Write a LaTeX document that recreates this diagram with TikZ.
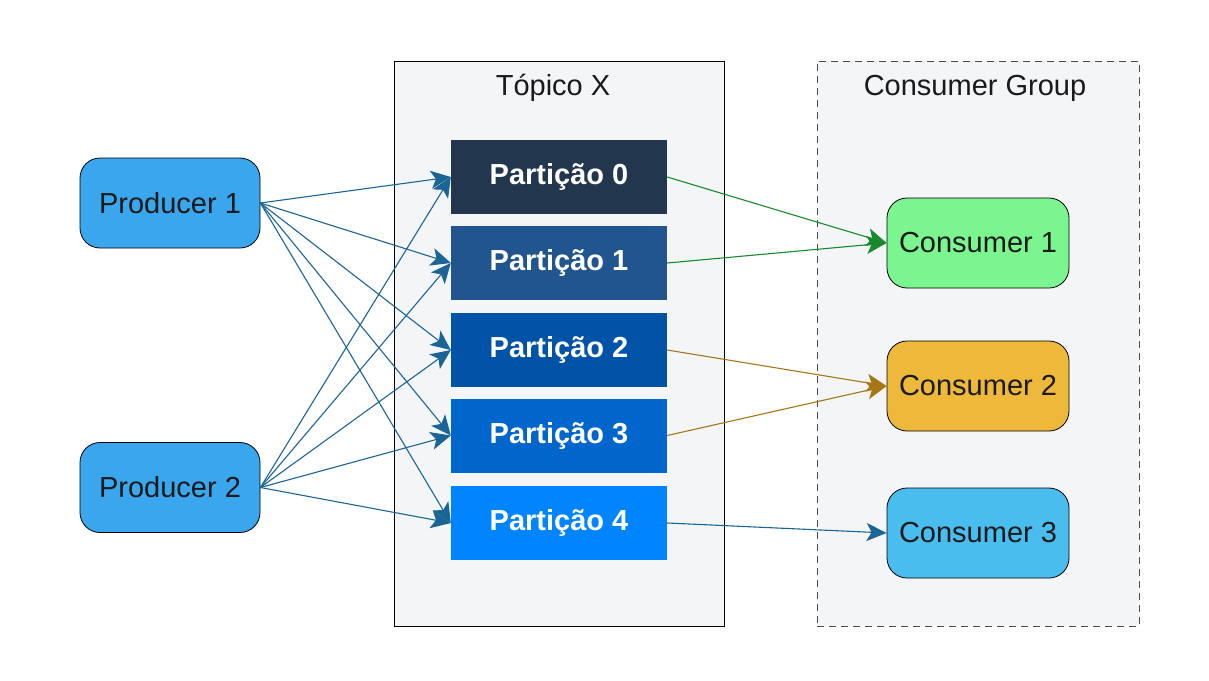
\documentclass[tikz,border=0pt]{standalone}
\usepackage{fontspec}
\setmainfont{Liberation Sans}
\usetikzlibrary{arrows.meta}
\definecolor{groupfill}{HTML}{F4F5F7}
\definecolor{pzero}{HTML}{22374D}
\definecolor{pone}{HTML}{21558F}
\definecolor{ptwo}{HTML}{0153A8}
\definecolor{pthree}{HTML}{0166CC}
\definecolor{pfour}{HTML}{0084FF}
\definecolor{prodfill}{HTML}{3AA6EE}
\definecolor{conone}{HTML}{7AF58F}
\definecolor{contwo}{HTML}{EEB83A}
\definecolor{conthree}{HTML}{4ABDEF}
\definecolor{txtdark}{HTML}{1A1A1A}
\definecolor{bluearrow}{HTML}{1A6596}
\definecolor{greenarrow}{HTML}{178A2C}
\definecolor{brownarrow}{HTML}{A67714}
\begin{document}
\begin{tikzpicture}[x=1pt,y=-1pt,
  groupbox/.style={draw=black, line width=0.8pt, fill=groupfill, minimum width=330pt, minimum height=565pt, inner sep=0pt},
  dashbox/.style={draw=black!70, line width=0.8pt, dash pattern=on 7pt off 5pt, fill=groupfill, minimum width=322pt, minimum height=565pt, inner sep=0pt},
  titletext/.style={font=\fontsize{29}{32}\selectfont, text=txtdark},
  partbox/.style={minimum width=216pt, minimum height=74pt, inner sep=0pt, text=white, font=\fontsize{29}{32}\selectfont\bfseries},
  roundbox/.style={draw=black, line width=0.8pt, rounded corners=20pt, minimum width=180pt, minimum height=90pt, inner sep=0pt, text=txtdark, font=\fontsize{29}{32}\selectfont},
  conbox/.style={roundbox, minimum width=182pt},
  flow/.style={line width=1.1pt, -{Stealth[length=20pt, width=18pt, inset=5pt]}}
]
\useasboundingbox (0,0) rectangle (1209,680);
\fill[white] (0,0) rectangle (1209,680);

\node[groupbox] (topic) at (559,343.5) {};
\node[dashbox] (group) at (978,343.5) {};
\node[titletext] (topictitle) at (553,88) {Tópico X};
\node[titletext] (grouptitle) at (975,88) {Consumer Group};

\node[partbox, fill=pzero] (p0) at (559,177) {Partição 0};
\node[partbox, fill=pone] (p1) at (559,263) {Partição 1};
\node[partbox, fill=ptwo] (p2) at (559,350) {Partição 2};
\node[partbox, fill=pthree] (p3) at (559,435.5) {Partição 3};
\node[partbox, fill=pfour] (p4) at (559,523) {Partição 4};

\node[roundbox, fill=prodfill] (pr1) at (170,203) {Producer 1};
\node[roundbox, fill=prodfill] (pr2) at (170,487.5) {Producer 2};

\node[conbox, fill=conone] (c1) at (978,243) {Consumer 1};
\node[conbox, fill=contwo] (c2) at (978,386) {Consumer 2};
\node[conbox, fill=conthree] (c3) at (978,533) {Consumer 3};

\foreach \p in {p0,p1,p2,p3,p4} {
  \draw[flow, bluearrow] (pr1.east) -- (\p.west);
  \draw[flow, bluearrow] (pr2.east) -- (\p.west);
}
\draw[flow, greenarrow] (p0.east) -- (c1.west);
\draw[flow, greenarrow] (p1.east) -- (c1.west);
\draw[flow, brownarrow] (p2.east) -- (c2.west);
\draw[flow, brownarrow] (p3.east) -- (c2.west);
\draw[flow, bluearrow] (p4.east) -- (c3.west);
\end{tikzpicture}
\end{document}
